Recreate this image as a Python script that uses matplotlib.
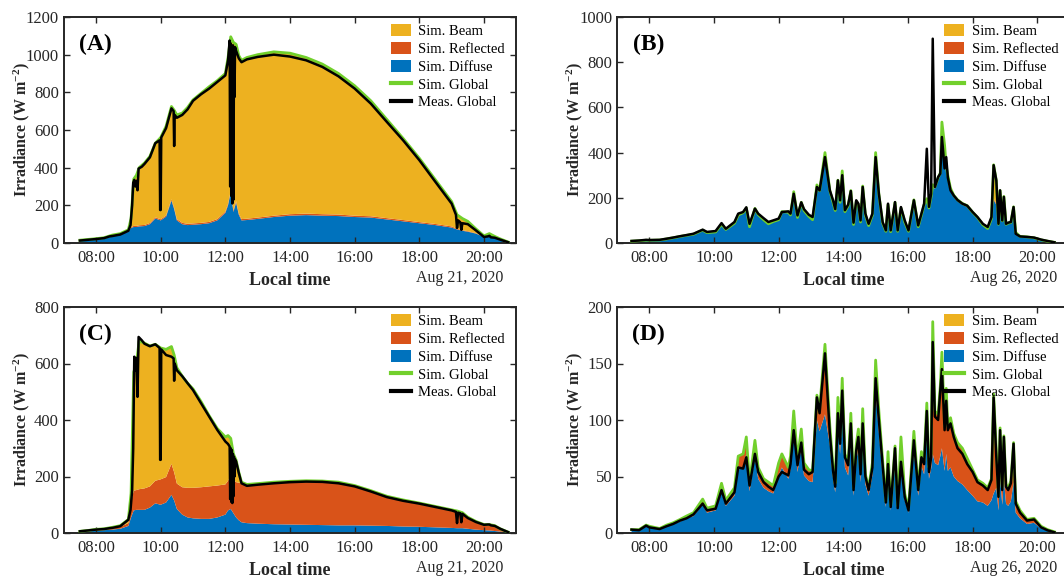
import matplotlib
matplotlib.use("Agg")
import matplotlib.pyplot as plt
import numpy as np
from matplotlib.patches import Patch
from matplotlib.lines import Line2D

plt.rcParams['font.family'] = ['Liberation Serif', 'DejaVu Serif']
plt.rcParams['mathtext.fontset'] = 'custom'
plt.rcParams['mathtext.rm'] = 'Liberation Serif'
plt.rcParams['mathtext.it'] = 'Liberation Serif:italic'
plt.rcParams['mathtext.bf'] = 'Liberation Serif:bold'

# ---------------- Aug 21, 2020 (panels A and C) ----------------
time_ac = ["7:30", "7:45", "8:00", "8:15", "8:30", "8:45", "9:00", "9:05", "9:10", "9:15",
           "9:20", "9:30", "9:40", "9:50", "10:00", "10:10", "10:20", "10:25", "10:30", "10:40",
           "10:50", "11:00", "11:15", "11:30", "11:45", "12:00", "12:05", "12:10", "12:15", "12:20",
           "12:25", "12:30", "12:40", "13:00", "13:30", "14:00", "14:30", "15:00", "15:30", "16:00",
           "16:30", "17:00", "17:30", "18:00", "18:30", "19:00", "19:10", "19:20", "19:30", "19:45",
           "20:00", "20:10", "20:20", "20:30", "20:45"]

a_diffuse = [12, 16, 19, 24, 36, 44, 60, 80, 85, 85, 88, 90, 100, 130, 120, 140, 225, 180, 120, 100,
             95, 97, 100, 105, 120, 160, 200, 270, 165, 215, 150, 120, 122, 128, 138, 145, 148, 145, 143, 138,
             135, 125, 115, 105, 95, 82, 72, 65, 60, 50, 32, 40, 30, 20, 5]
a_reflected = [0, 0, 1, 1, 1, 1, 2, 4, 6, 6, 6, 6, 6, 6, 6, 6, 7, 7, 7, 7,
               7, 7, 7, 7, 7, 7, 7, 7, 7, 7, 7, 7, 7, 7, 7, 8, 8, 8, 8, 7,
               7, 7, 7, 6, 6, 6, 4, 3, 3, 2, 1, 1, 1, 0, 0]
a_beam = [3, 3, 3, 3, 5, 5, 8, 46, 249, 269, 306, 329, 354, 394, 434, 474, 493, 518, 553, 583,
          618, 656, 688, 718, 735, 733, 778, 818, 893, 833, 838, 843, 856, 865, 870, 855, 829, 797, 749, 690,
          613, 523, 433, 339, 234, 132, 74, 62, 52, 23, 5, 9, 4, 2, 0]

c_diffuse = [4, 6, 8, 10, 12, 15, 25, 55, 80, 82, 82, 82, 90, 105, 100, 108, 135, 115, 85, 65,
             55, 52, 50, 50, 55, 65, 80, 85, 70, 55, 45, 38, 35, 33, 31, 30, 29, 28, 27, 27,
             26, 25, 23, 22, 20, 18, 17, 17, 15, 12, 10, 9, 7, 5, 2]
c_reflected = [1, 2, 3, 3, 5, 7, 10, 55, 70, 70, 73, 76, 75, 80, 90, 90, 110, 100, 90, 97,
               105, 108, 112, 115, 113, 107, 105, 115, 120, 125, 133, 137, 137, 142, 149, 153, 156, 156, 153, 141,
               124, 105, 94, 84, 74, 64, 61, 55, 41, 29, 20, 21, 19, 10, 1]
c_beam = [1, 1, 2, 2, 3, 4, 13, 30, 420, 448, 525, 514, 497, 483, 465, 452, 415, 415, 410, 393,
          370, 350, 303, 250, 202, 168, 160, 135, 90, 78, 37, 5, 0, 0, 0, 0, 0, 0, 0, 0,
          0, 0, 0, 0, 0, 0, 0, 0, 0, 0, 0, 0, 0, 0, 0]

time_meas_ac = ["7:30", "7:45", "8:00", "8:15", "8:25", "8:30", "8:45", "9:00", "9:04", "9:07",
                "9:09", "9:11", "9:13", "9:15", "9:17", "9:19", "9:25", "9:30", "9:40", "9:50",
                "9:58", "9:59", "10:00", "10:01", "10:10", "10:20", "10:24", "10:25", "10:26", "10:30",
                "10:40", "10:50", "11:00", "11:15", "11:30", "11:45", "12:00", "12:05", "12:08", "12:09",
                "12:10", "12:11", "12:12", "12:13", "12:14", "12:15", "12:16", "12:17", "12:18", "12:20",
                "12:25", "12:30", "12:40", "13:00", "13:30", "14:00", "14:30", "15:00", "15:30", "16:00",
                "16:30", "17:00", "17:30", "18:00", "18:30", "19:00", "19:08", "19:10", "19:12", "19:16",
                "19:18", "19:20", "19:30", "19:45", "20:00", "20:07", "20:10", "20:13", "20:20", "20:30",
                "20:45"]
a_meas = [13, 17, 21, 26, 35, 37, 45, 65, 95, 200, 320, 335, 300, 330, 280, 395, 405, 420, 455, 530,
          545, 175, 175, 560, 610, 715, 700, 515, 680, 665, 680, 710, 755, 790, 820, 855, 890, 970, 1075, 300,
          1060, 250, 1040, 210, 1050, 230, 1000, 775, 1040, 1020, 980, 960, 975, 988, 1000, 990, 970, 935, 885, 820,
          740, 642, 545, 440, 324, 209, 150, 80, 120, 110, 70, 105, 100, 67, 32, 35, 38, 30, 28, 18, 4]
c_meas = [6, 9, 12, 14, 17, 18, 24, 47, 82, 150, 300, 624, 576, 620, 482, 694, 682, 670, 661, 668,
          655, 259, 259, 650, 630, 624, 618, 539, 600, 576, 555, 530, 506, 459, 412, 365, 324, 315, 306, 120,
          300, 110, 294, 106, 280, 130, 270, 200, 260, 253, 212, 176, 167, 171, 176, 180, 182, 181, 176, 165,
          147, 127, 114, 104, 92, 80, 75, 35, 72, 70, 38, 68, 53, 39, 29, 30, 30, 27, 25, 15, 3]

# ---------------- Aug 26, 2020 (panels B and D) ----------------
time_bd = ["7:27", "7:41", "7:54", "8:00", "8:19", "8:32", "8:44", "8:57", "9:09", "9:22",
           "9:39", "9:47", "10:03", "10:14", "10:22", "10:38", "10:45", "10:54", "11:00", "11:06",
           "11:16", "11:22", "11:32", "11:41", "11:50", "12:00", "12:06", "12:18", "12:22", "12:28",
           "12:35", "12:42", "12:47", "12:56", "13:03", "13:11", "13:16", "13:26", "13:35", "13:41",
           "13:45", "13:50", "13:54", "13:58", "14:03", "14:09", "14:14", "14:19", "14:24", "14:28",
           "14:32", "14:36", "14:41", "14:47", "14:54", "15:00", "15:06", "15:13", "15:19", "15:23",
           "15:28", "15:36", "15:41", "15:47", "15:54", "16:01", "16:11", "16:19", "16:25", "16:30",
           "16:35", "16:39", "16:43", "16:46", "16:50", "16:56", "17:00", "17:03", "17:08", "17:11",
           "17:14", "17:19", "17:25", "17:32", "17:41", "17:50", "18:00", "18:09", "18:19", "18:28",
           "18:35", "18:39", "18:44", "18:48", "18:51", "18:55", "18:58", "19:02", "19:06", "19:11",
           "19:16", "19:20", "19:28", "19:41", "19:54", "20:07", "20:19", "20:32"]

b_diffuse = [8, 10, 12, 12, 13, 17, 22, 28, 33, 38, 55, 45, 48, 80, 58, 85, 120, 130, 150, 70,
             148, 122, 100, 82, 92, 100, 135, 132, 120, 220, 110, 175, 140, 115, 100, 250, 225, 390, 225, 175,
             140, 270, 175, 310, 135, 160, 225, 80, 180, 165, 90, 245, 120, 75, 120, 390, 210, 85, 50, 165,
             48, 175, 50, 150, 90, 50, 185, 70, 120, 165, 190, 150, 200, 250, 240, 280, 300, 520, 420, 330,
             290, 235, 205, 185, 170, 160, 132, 110, 78, 62, 105, 190, 170, 80, 225, 95, 200, 80, 85, 88,
             155, 45, 28, 26, 22, 14, 8, 3]
b_reflected = [0, 0, 0, 0, 0, 1, 1, 1, 1, 1, 2, 1, 1, 3, 2, 3, 4, 4, 5, 2,
               5, 4, 3, 3, 3, 3, 4, 4, 4, 7, 3, 5, 4, 3, 3, 7, 7, 10, 7, 5,
               4, 8, 5, 9, 4, 5, 7, 2, 5, 5, 3, 7, 4, 2, 4, 10, 6, 3, 2, 5,
               2, 5, 2, 5, 3, 2, 6, 2, 4, 5, 6, 5, 6, 8, 8, 9, 10, 15, 12, 10,
               9, 7, 6, 6, 5, 5, 4, 3, 3, 2, 3, 6, 5, 3, 7, 3, 6, 3, 3, 3,
               5, 2, 1, 1, 1, 0, 0, 0]
b_beam = [0, 0, 0, 0, 0, 0, 0, 0, 0, 0, 0, 0, 0, 0, 0, 0, 0, 0, 0, 0,
          0, 0, 0, 0, 0, 0, 0, 0, 0, 0, 0, 0, 0, 0, 0, 0, 0, 0, 0, 0,
          0, 0, 0, 0, 0, 0, 0, 0, 0, 0, 0, 0, 0, 0, 0, 0, 0, 0, 0, 0,
          0, 0, 0, 0, 0, 0, 0, 0, 0, 0, 0, 0, 0, 0, 0, 0, 0, 0, 0, 0,
          0, 0, 0, 0, 0, 0, 0, 0, 0, 0, 0, 150, 100, 0, 0, 0, 0, 0, 0, 0,
          0, 0, 0, 0, 0, 0, 0, 0]
b_meas = [9, 11, 14, 13, 14, 19, 24, 30, 35, 41, 59, 49, 53, 88, 63, 93, 130, 137, 158, 85,
          152, 130, 110, 93, 100, 108, 137, 140, 130, 218, 122, 180, 150, 125, 115, 248, 233, 380, 233, 189,
          150, 277, 189, 300, 145, 170, 230, 90, 189, 174, 100, 248, 130, 85, 130, 380, 218, 93, 56, 174,
          56, 181, 56, 159, 100, 56, 189, 78, 130, 174, 417, 160, 218, 904, 248, 292, 307, 469, 330, 380,
          290, 233, 210, 190, 174, 165, 137, 115, 85, 71, 115, 344, 277, 85, 233, 100, 204, 85, 90, 93,
          159, 41, 29, 27, 24, 15, 9, 3]

d_diffuse = [3, 3, 6, 5, 4, 6, 8, 10, 13, 15, 25, 18, 20, 36, 24, 33, 56, 58, 70, 37,
             67, 48, 40, 37, 35, 51, 58, 48, 56, 89, 54, 76, 51, 46, 45, 100, 90, 105, 78, 48,
             36, 98, 70, 112, 58, 51, 87, 33, 64, 75, 45, 90, 43, 33, 51, 125, 89, 52, 23, 59,
             20, 63, 20, 70, 29, 18, 74, 33, 59, 52, 94, 48, 57, 70, 62, 60, 68, 75, 55, 70,
             55, 58, 50, 46, 43, 38, 33, 28, 27, 24, 29, 35, 40, 20, 50, 25, 48, 26, 24, 28,
             45, 18, 13, 8, 9, 4, 2, 1]
d_reflected = [0, 0, 1, 1, 0, 1, 1, 2, 2, 3, 5, 4, 4, 8, 5, 7, 12, 12, 15, 8,
               15, 10, 8, 8, 7, 11, 12, 10, 12, 19, 11, 16, 11, 10, 10, 22, 20, 62, 17, 10,
               8, 22, 15, 25, 12, 11, 19, 7, 14, 17, 10, 20, 9, 7, 11, 28, 19, 12, 5, 13,
               4, 14, 4, 15, 6, 4, 16, 7, 13, 12, 21, 10, 13, 117, 46, 45, 62, 85, 40, 58,
               39, 44, 38, 34, 32, 28, 23, 19, 17, 16, 19, 87, 32, 13, 43, 15, 38, 17, 16, 18,
               35, 10, 7, 4, 4, 2, 1, 0]
d_beam = [0, 0, 0, 0, 0, 0, 0, 0, 0, 0, 0, 0, 0, 0, 0, 0, 0, 0, 0, 0,
          0, 0, 0, 0, 0, 0, 0, 0, 0, 0, 0, 0, 0, 0, 0, 0, 0, 0, 0, 0,
          0, 0, 0, 0, 0, 0, 0, 0, 0, 0, 0, 0, 0, 0, 0, 0, 0, 0, 0, 0,
          0, 0, 0, 0, 0, 0, 0, 0, 0, 0, 0, 0, 0, 0, 0, 0, 0, 0, 0, 0,
          0, 0, 0, 0, 0, 0, 0, 0, 0, 0, 0, 1, 1, 0, 0, 0, 0, 0, 0, 0,
          0, 0, 0, 0, 0, 0, 0, 0]
d_meas = [3, 2.5, 6.5, 5, 3.5, 6, 8, 11, 13, 16.5, 26, 20, 21.5, 38, 26, 36, 58, 57, 67, 42,
          70, 54, 45, 41, 38, 50, 54, 51, 61, 91, 60, 80, 56, 52, 54, 120, 106, 159, 88, 55,
          41, 106, 79, 126, 67, 60, 97, 38, 73, 85, 52, 97, 50, 38, 58, 137, 100, 60, 27, 61,
          23, 75, 22, 63, 32, 20, 82, 38, 67, 61, 108, 54, 67, 169, 103, 100, 126, 145, 91, 117,
          91, 97, 85, 75, 70, 61, 54, 45, 42, 38, 47, 120, 67, 32, 91, 38, 85, 41, 38, 44,
          79, 26, 18, 11, 12, 5, 2.4, 0.6]

labels = ["Sim. Beam", "Sim. Reflected", "Sim. Diffuse", "Sim. Global", "Meas. Global"]
c_beam_col, c_refl_col, c_diff_col = "#EDB120", "#D95319", "#0072BD"
c_glob_col, c_meas_col = "#72D02C", "#000000"
axis_col = "#262626"


def hours(ts):
    return np.array([int(s.split(":")[0]) + int(s.split(":")[1]) / 60.0 for s in ts])


W, H = 1064.0, 579.0
panels = [
    ("(A)", 63.7, 17, time_ac, a_diffuse, a_reflected, a_beam, time_meas_ac, a_meas, 1200, 200, "Aug 21, 2020"),
    ("(B)", 617.0, 17, time_bd, b_diffuse, b_reflected, b_beam, time_bd, b_meas, 1000, 200, "Aug 26, 2020"),
    ("(C)", 63.7, 307, time_ac, c_diffuse, c_reflected, c_beam, time_meas_ac, c_meas, 800, 200, "Aug 21, 2020"),
    ("(D)", 617.0, 307, time_bd, d_diffuse, d_reflected, d_beam, time_bd, d_meas, 200, 50, "Aug 26, 2020"),
]
ax_w, ax_h = 452.6, 226.0

fig = plt.figure(figsize=(W / 100, H / 100), dpi=100)
for (tag, x0, y0, ts, dif, refl, beam, tms, meas, ymax, ystep, date) in panels:
    ax = fig.add_axes([x0 / W, 1 - (y0 + ax_h) / H, ax_w / W, ax_h / H])
    t = hours(ts)
    dif = np.array(dif, float)
    refl = np.array(refl, float)
    beam = np.array(beam, float)
    ax.stackplot(t, dif, refl, beam, colors=[c_diff_col, c_refl_col, c_beam_col], linewidth=0)
    ax.plot(t, dif + refl + beam, color=c_glob_col, lw=2.0, zorder=3)
    ax.plot(hours(tms), meas, color=c_meas_col, lw=1.8, zorder=4)
    ax.set_xlim(7, 21)
    ax.set_ylim(0, ymax)
    ax.set_xticks(np.arange(8, 21, 2))
    ax.set_xticklabels([f"{h:02d}:00" for h in range(8, 21, 2)])
    ax.set_yticks(np.arange(0, ymax + 1, ystep))
    ax.tick_params(direction="in", top=True, right=True, length=4, width=1.0,
                   color=axis_col, labelcolor=axis_col, labelsize=12)
    ax.tick_params(axis="x", pad=5)
    ax.tick_params(axis="y", pad=3.5)
    for sp in ax.spines.values():
        sp.set_linewidth(1.4)
        sp.set_color(axis_col)
    ax.set_ylabel(r"Irradiance (W m$^{\mathbf{-2}}$)", fontsize=11.5, fontweight="bold", color=axis_col)
    ax.yaxis.set_label_coords(-0.07, 0.5)
    ax.text(0.5, -0.165, "Local time", transform=ax.transAxes, ha="center", va="center",
            fontsize=13, fontweight="bold", color=axis_col)
    ax.text(0.972, -0.155, date, transform=ax.transAxes, ha="right", va="center",
            fontsize=11.5, color=axis_col)
    ax.text(0.069, 0.88, tag, transform=ax.transAxes, ha="center", va="center",
            fontsize=17, fontweight="bold", color="#000000")
    handles = [Patch(facecolor=c_beam_col), Patch(facecolor=c_refl_col), Patch(facecolor=c_diff_col),
               Line2D([0], [0], color=c_glob_col, lw=3), Line2D([0], [0], color=c_meas_col, lw=3)]
    ax.legend(handles, labels, loc="upper right", bbox_to_anchor=(0.975, 0.968), frameon=False,
              fontsize=10.5, handlelength=1.4, handleheight=0.9, handletextpad=0.5,
              labelspacing=0.25, borderpad=0, borderaxespad=0)

fig.savefig("out.png", dpi=100)
